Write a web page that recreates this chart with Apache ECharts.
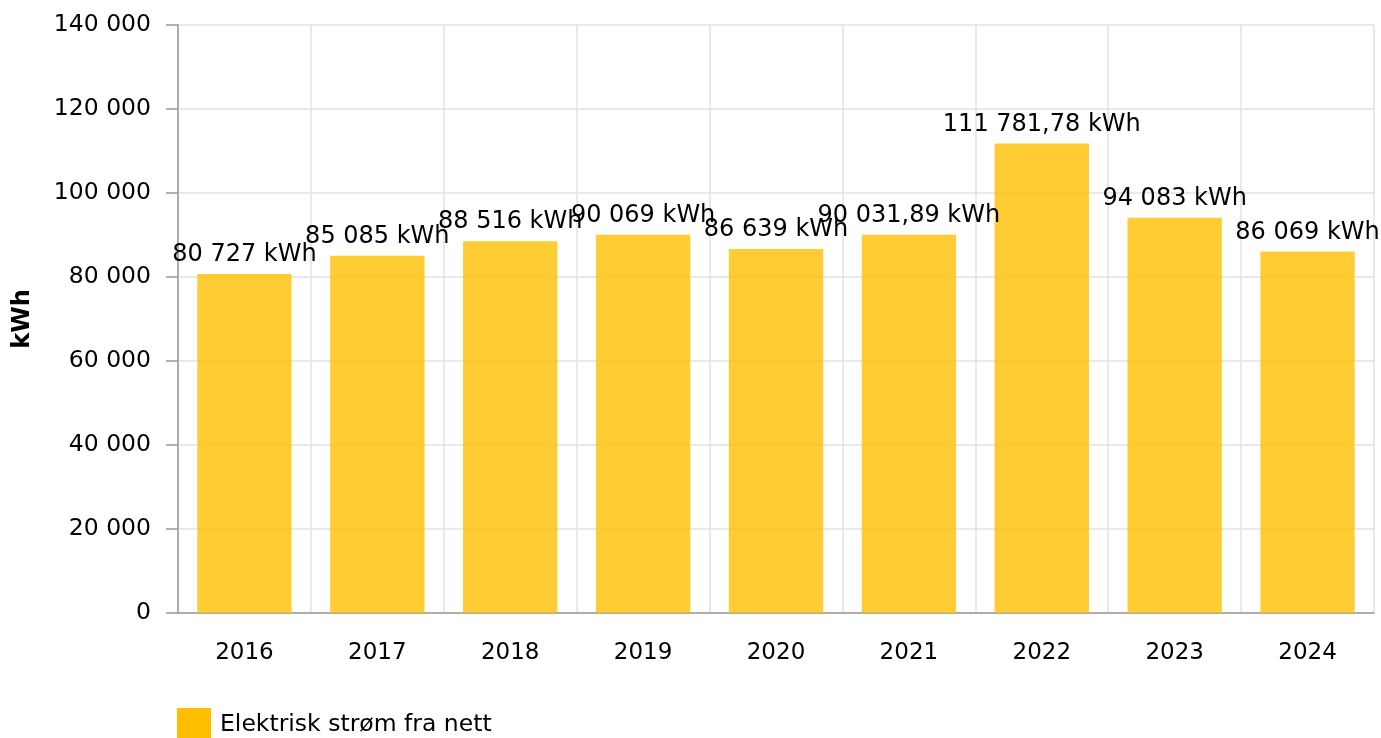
<!DOCTYPE html>
<html>
<head>
<meta charset="utf-8">
<script src="https://cdn.jsdelivr.net/npm/echarts@6/dist/echarts.min.js"></script>
<style>
  html, body { margin: 0; padding: 0; background: #fff; }
  #chart { width: 1381px; height: 738px; }
</style>
</head>
<body>
<div id="chart"></div>
<script>
const years = ['2016', '2017', '2018', '2019', '2020', '2021', '2022', '2023', '2024']
const gridValues = [80727, 85085, 88516, 90069, 86639, 90031.89, 111781.78, 94083, 86069]
const seriesName = 'Elektrisk strøm fra nett'
const unit = 'kWh'

const font = 'DejaVu Sans, Verdana, sans-serif'

// norwegian style: space as thousand separator, comma decimals
function fmt(v) {
  const parts = String(v).split('.')
  const int = parts[0].replace(/\B(?=(\d{3})+(?!\d))/g, ' ')
  return parts[1] ? int + ',' + parts[1] : int
}

const chart = echarts.init(document.getElementById('chart'))

chart.setOption({
  animation: false,
  textStyle: { fontFamily: font },
  grid: { left: 178, right: 7, top: 25, bottom: 125 },
  legend: {
    left: 172,
    top: 703,
    itemWidth: 34,
    itemHeight: 34,
    icon: 'rect',
    textStyle: { fontSize: 23.5, color: '#000', fontFamily: font, padding: [0, 0, 0, 4] },
    data: [{ name: seriesName, itemStyle: { color: '#FFBF00' } }]
  },
  xAxis: {
    type: 'category',
    data: years,
    axisLine: { lineStyle: { color: '#999', width: 1.5 } },
    axisTick: { alignWithLabel: true, length: 10, lineStyle: { color: '#999', width: 1.5 } },
    axisLabel: { fontSize: 23, color: '#000', margin: 29 },
    splitLine: { show: true, lineStyle: { color: '#e2e2e2', width: 1.5 } }
  },
  yAxis: {
    type: 'value',
    min: 0,
    max: 140000,
    interval: 20000,
    name: unit,
    nameLocation: 'middle',
    nameGap: 143,
    nameTextStyle: { fontSize: 24, fontWeight: 'bold', color: '#000' },
    axisLine: { show: true, lineStyle: { color: '#999', width: 1.5 } },
    axisTick: { show: true, length: 12, lineStyle: { color: '#999', width: 1.5 } },
    axisLabel: { fontSize: 23.5, color: '#000', margin: 27, formatter: v => fmt(v) },
    splitLine: { lineStyle: { color: '#e2e2e2', width: 1.5 } }
  },
  series: [{
    name: seriesName,
    type: 'bar',
    data: gridValues,
    barWidth: '71%',
    itemStyle: { color: 'rgba(255, 191, 0, 0.8)' },
    label: {
      show: true,
      position: 'top',
      distance: 7,
      fontSize: 24,
      color: '#000',
      formatter: p => fmt(p.value) + ' ' + unit
    }
  }]
})
</script>
</body>
</html>
